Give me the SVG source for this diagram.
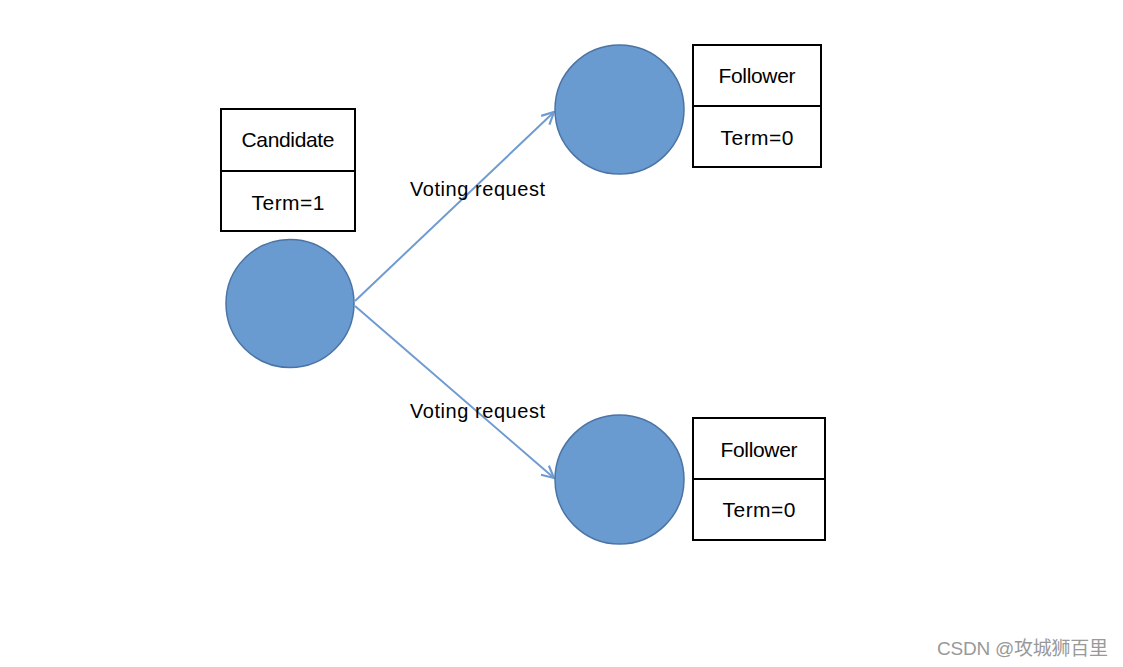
<svg xmlns="http://www.w3.org/2000/svg" width="1123" height="667" viewBox="0 0 1123 667">
<style>
.node{fill:#6a9bd0;stroke:#4a74a6;stroke-width:1.5}
.box{fill:#fff;stroke:#000;stroke-width:2}
.lbl{font-family:"Liberation Sans",Arial,sans-serif;font-size:21px;fill:#000;text-anchor:middle}
.edge{fill:none;stroke:#6f9bd0;stroke-width:2}
.elbl{font-family:"Liberation Sans",Arial,sans-serif;font-size:20px;fill:#000}
</style>
<defs>
<marker id="arr" viewBox="0 0 14 14" refX="13" refY="7" markerWidth="14" markerHeight="14" markerUnits="userSpaceOnUse" orient="auto">
<path d="M1,1 L13,7 L1,13" fill="none" stroke="#6f9bd0" stroke-width="2.2"/>
</marker>
</defs>
<rect width="1123" height="667" fill="#fff"/>
<g id="edges">
<line class="edge" x1="355" y1="301" x2="554" y2="112" marker-end="url(#arr)"/>
<line class="edge" x1="355" y1="306" x2="554" y2="478" marker-end="url(#arr)"/>
<text class="elbl" x="410" y="196" textLength="135">Voting request</text>
<text class="elbl" x="410" y="418" textLength="135">Voting request</text>
</g>
<g id="candidate">
<circle class="node" cx="290" cy="303.5" r="64"/>
<rect class="box" x="221" y="109" width="134" height="122"/>
<line x1="221" y1="171" x2="355" y2="171" stroke="#000" stroke-width="2"/>
<text class="lbl" x="288" y="147" textLength="93">Candidate</text>
<text class="lbl" x="288" y="210" textLength="73">Term=1</text>
</g>
<g id="follower1">
<circle class="node" cx="619.5" cy="109.5" r="64.5"/>
<rect class="box" x="693" y="45" width="128" height="122"/>
<line x1="693" y1="106" x2="821" y2="106" stroke="#000" stroke-width="2"/>
<text class="lbl" x="757" y="83" textLength="77">Follower</text>
<text class="lbl" x="757" y="145" textLength="73">Term=0</text>
</g>
<g id="follower2">
<circle class="node" cx="619.5" cy="479.5" r="64.5"/>
<rect class="box" x="693" y="418" width="132" height="122"/>
<line x1="693" y1="479" x2="825" y2="479" stroke="#000" stroke-width="2"/>
<text class="lbl" x="759" y="457" textLength="77">Follower</text>
<text class="lbl" x="759" y="517" textLength="73">Term=0</text>
</g>
<text x="937" y="655" font-family="'Liberation Sans','Noto Sans CJK SC',sans-serif" font-size="19" fill="#999" textLength="171">CSDN @攻城狮百里</text>
</svg>
